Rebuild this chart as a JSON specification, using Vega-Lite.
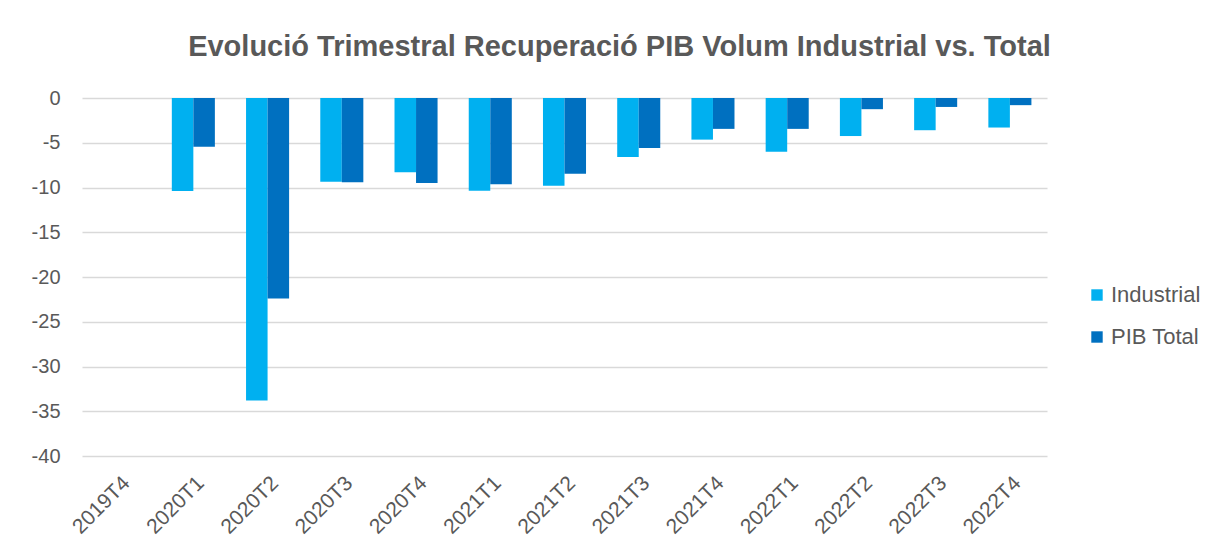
{
  "$schema": "https://vega.github.io/schema/vega-lite/v6.json",
  "width": 965,
  "height": 358,
  "autosize": {"type": "none"},
  "padding": {"left": 82, "top": 98, "right": 184, "bottom": 103},
  "background": "white",
  "title": {
    "text": "Evolució Trimestral Recuperació PIB Volum Industrial vs. Total",
    "font": "Liberation Sans",
    "fontSize": 29,
    "fontWeight": "bold",
    "color": "#595959",
    "anchor": "middle",
    "dx": 55,
    "offset": 26
  },
  "data": {
    "values": [
      {"q": "2019T4", "serie": "Industrial", "v": 0},
      {"q": "2019T4", "serie": "PIB Total", "v": 0},
      {"q": "2020T1", "serie": "Industrial", "v": -10.4},
      {"q": "2020T1", "serie": "PIB Total", "v": -5.45},
      {"q": "2020T2", "serie": "Industrial", "v": -33.8},
      {"q": "2020T2", "serie": "PIB Total", "v": -22.4},
      {"q": "2020T3", "serie": "Industrial", "v": -9.35},
      {"q": "2020T3", "serie": "PIB Total", "v": -9.4},
      {"q": "2020T4", "serie": "Industrial", "v": -8.3},
      {"q": "2020T4", "serie": "PIB Total", "v": -9.5},
      {"q": "2021T1", "serie": "Industrial", "v": -10.35},
      {"q": "2021T1", "serie": "PIB Total", "v": -9.65},
      {"q": "2021T2", "serie": "Industrial", "v": -9.8},
      {"q": "2021T2", "serie": "PIB Total", "v": -8.45},
      {"q": "2021T3", "serie": "Industrial", "v": -6.6},
      {"q": "2021T3", "serie": "PIB Total", "v": -5.6},
      {"q": "2021T4", "serie": "Industrial", "v": -4.65},
      {"q": "2021T4", "serie": "PIB Total", "v": -3.45},
      {"q": "2022T1", "serie": "Industrial", "v": -6.0},
      {"q": "2022T1", "serie": "PIB Total", "v": -3.45},
      {"q": "2022T2", "serie": "Industrial", "v": -4.25},
      {"q": "2022T2", "serie": "PIB Total", "v": -1.25},
      {"q": "2022T3", "serie": "Industrial", "v": -3.6},
      {"q": "2022T3", "serie": "PIB Total", "v": -1.0},
      {"q": "2022T4", "serie": "Industrial", "v": -3.3},
      {"q": "2022T4", "serie": "PIB Total", "v": -0.8}
    ]
  },
  "mark": {"type": "bar"},
  "encoding": {
    "x": {
      "field": "q",
      "type": "nominal",
      "sort": null,
      "scale": {"paddingInner": 0.42, "paddingOuter": 0.21},
      "axis": {
        "title": null,
        "orient": "bottom",
        "domain": false,
        "ticks": false,
        "grid": false,
        "labelAngle": -45,
        "labelFont": "Liberation Sans",
        "labelFontSize": 21,
        "labelColor": "#595959",
        "labelPadding": 16
      }
    },
    "xOffset": {"field": "serie", "type": "nominal", "scale": {"paddingInner": 0, "paddingOuter": 0}},
    "y": {
      "field": "v",
      "type": "quantitative",
      "scale": {"domain": [-40, 0], "nice": false, "zero": true},
      "axis": {
        "title": null,
        "values": [0, -5, -10, -15, -20, -25, -30, -35, -40],
        "labelExpr": "toString(datum.value)",
        "domain": false,
        "ticks": false,
        "gridColor": "#D9D9D9",
        "gridWidth": 1.5,
        "labelFont": "Liberation Sans",
        "labelFontSize": 20,
        "labelColor": "#595959",
        "labelPadding": 22
      }
    },
    "color": {
      "field": "serie",
      "type": "nominal",
      "scale": {"domain": ["Industrial", "PIB Total"], "range": ["#00B0F0", "#0070C0"]},
      "legend": {
        "title": null,
        "orient": "none",
        "legendX": 1004,
        "legendY": 186,
        "symbolType": "square",
        "symbolSize": 130,
        "symbolStrokeWidth": 0,
        "labelFont": "Liberation Sans",
        "labelFontSize": 22,
        "labelColor": "#595959",
        "rowPadding": 20,
        "labelOffset": 3
      }
    }
  },
  "config": {"view": {"stroke": null}}
}
